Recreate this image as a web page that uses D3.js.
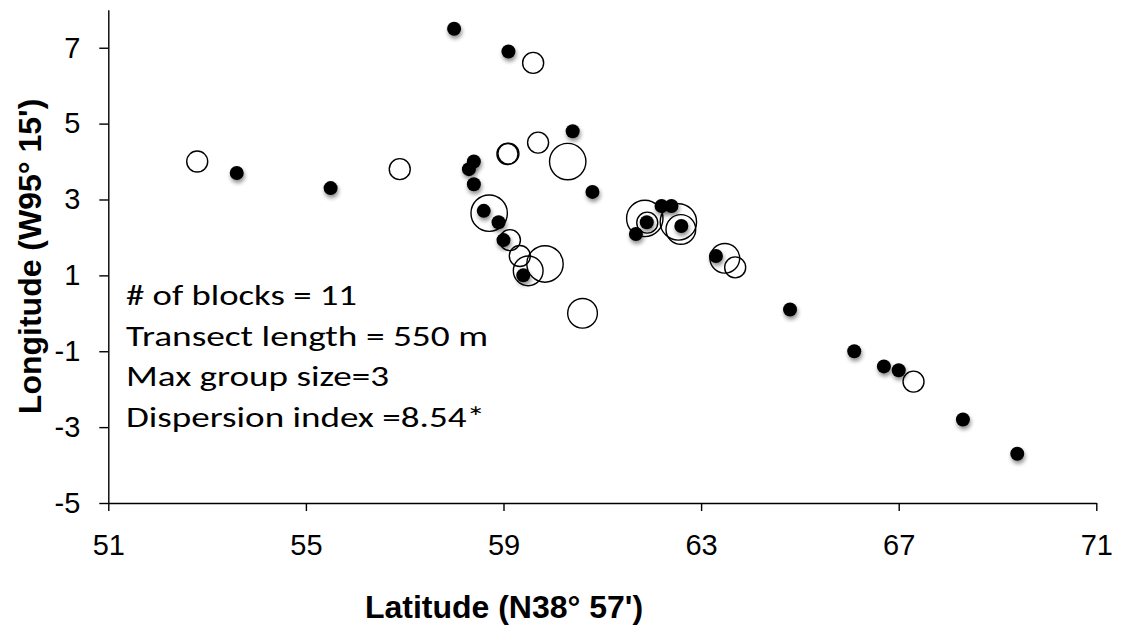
<!DOCTYPE html>
<html>
<head>
<meta charset="utf-8">
<script src="https://cdn.jsdelivr.net/npm/d3@7"></script>
<style>
  html, body { margin: 0; padding: 0; background: #fff; }
  svg { display: block; }
</style>
</head>
<body>
<svg id="chart" width="1124" height="628"></svg>
<script>
// Axis ticks
const xTicks = [51, 55, 59, 63, 67, 71];
const yTicks = [-5, -3, -1, 1, 3, 5, 7];

// Individual sightings (filled markers): [latitude, longitude]
const singles = [
  [58.0, 7.5], [59.1, 6.9], [53.6, 3.7], [55.5, 3.3],
  [58.4, 4.0], [58.3, 3.8], [58.4, 3.4], [60.4, 4.8], [60.8, 3.2],
  [58.6, 2.7], [58.9, 2.4], [59.0, 1.93], [59.4, 1.0],
  [61.9, 2.4], [61.68, 2.09], [62.2, 2.83], [62.4, 2.83], [62.6, 2.3],
  [63.3, 1.51], [64.8, 0.1], [66.1, -1.0], [66.7, -1.4], [67.0, -1.5],
  [68.3, -2.8], [69.4, -3.7]
];

// Groups (open markers): [latitude, longitude, group size]
const groups = [
  [52.8, 4.0, 1], [56.9, 3.8, 1], [59.08, 4.2, 1], [59.1, 4.21, 1],
  [59.7, 4.5, 1], [60.3, 4.0, 3], [59.6, 6.6, 1],
  [58.71, 2.64, 3], [59.13, 1.93, 1], [59.33, 1.51, 1],
  [59.84, 1.3, 3], [59.5, 1.12, 2], [60.6, 0.0, 2],
  [61.86, 2.5, 3], [61.91, 2.39, 1], [62.54, 2.41, 3], [62.59, 2.21, 2],
  [63.48, 1.45, 2], [63.69, 1.21, 1], [67.3, -1.8, 1]
];

// Summary statistics printed in the plot
const notes = [
  "# of blocks = 11",
  "Transect length = 550 m",
  "Max group size=3",
  "Dispersion index =8.54*"
];
const noteWidths = [231, 362, 263, 359];

const xTitle = "Latitude (N38° 57')";
const yTitle = "Longitude (W95° 15')";

const svg = d3.select("#chart");
const plotLeft = 108.3, plotRight = 1096.3, plotTop = 9.8, plotBottom = 503;

const x = d3.scaleLinear().domain([51, 71]).range([plotLeft, plotRight]);
const y = d3.scaleLinear().domain([-5, 8]).range([plotBottom, plotTop]);
const r = d3.scaleSqrt().domain([0, 3]).range([0, 18.2]);

// Plain hyphen-minus for negative tick labels
const fmt = d => String(d);

// Drop shadow used by the filled markers
const defs = svg.append("defs");
const f = defs.append("filter").attr("id", "shadow")
  .attr("x", "-60%").attr("y", "-60%").attr("width", "220%").attr("height", "220%");
f.append("feGaussianBlur").attr("in", "SourceAlpha").attr("stdDeviation", 2.2).attr("result", "b");
f.append("feOffset").attr("in", "b").attr("dx", 1).attr("dy", 3).attr("result", "o");
f.append("feComponentTransfer").attr("in", "o").attr("result", "s")
  .append("feFuncA").attr("type", "linear").attr("slope", 0.45);
const m = f.append("feMerge");
m.append("feMergeNode").attr("in", "s");
m.append("feMergeNode").attr("in", "SourceGraphic");

const tickFont = "'Liberation Sans', Arial, sans-serif";

// X axis
const gx = svg.append("g").attr("transform", `translate(0,${plotBottom})`)
  .call(d3.axisBottom(x).tickValues(xTicks).tickSize(8).tickSizeOuter(0).tickFormat(fmt));
gx.select(".domain").attr("stroke", "#000").attr("stroke-width", 1.4);
gx.selectAll(".tick line").attr("stroke", "#000").attr("stroke-width", 1.4);
gx.selectAll(".tick text")
  .attr("y", 0).attr("dy", null).attr("transform", "translate(0,52)")
  .attr("font-family", tickFont).attr("font-size", 29).attr("fill", "#000");

// Y axis
const gy = svg.append("g").attr("transform", `translate(${plotLeft},0)`)
  .call(d3.axisLeft(y).tickValues(yTicks).tickSize(9).tickPadding(19).tickSizeOuter(0).tickFormat(fmt));
gy.select(".domain").attr("stroke", "#000").attr("stroke-width", 1.4);
gy.selectAll(".tick line").attr("stroke", "#000").attr("stroke-width", 1.4);
gy.selectAll(".tick text")
  .attr("font-family", tickFont).attr("font-size", 29).attr("fill", "#000");

// Filled markers
svg.append("g").selectAll("circle").data(singles).join("circle")
  .attr("cx", d => x(d[0])).attr("cy", d => y(d[1])).attr("r", 7)
  .attr("fill", "#000").attr("filter", "url(#shadow)");

// Open markers sized by group size
svg.append("g").selectAll("circle").data(groups).join("circle")
  .attr("cx", d => x(d[0])).attr("cy", d => y(d[1])).attr("r", d => r(d[2]))
  .attr("fill", "none").attr("stroke", "#000").attr("stroke-width", 1.4);

// Summary text
svg.append("g").selectAll("text").data(notes).join("text")
  .attr("x", 126).attr("y", (d, i) => 305 + i * 40.7)
  .attr("font-family", "Carlito, Calibri, Lato, sans-serif").attr("font-size", 28)
  .attr("textLength", (d, i) => noteWidths[i]).attr("lengthAdjust", "spacingAndGlyphs")
  .attr("fill", "#000")
  .text(d => d);

// Axis titles
svg.append("text").attr("x", 504).attr("y", 618)
  .attr("text-anchor", "middle").attr("font-family", tickFont)
  .attr("font-weight", "bold").attr("font-size", 32).attr("fill", "#000")
  .text(xTitle);

svg.append("text").attr("transform", `translate(41,${(plotTop + plotBottom) / 2}) rotate(-90)`)
  .attr("text-anchor", "middle").attr("font-family", tickFont)
  .attr("font-weight", "bold").attr("font-size", 32).attr("fill", "#000")
  .text(yTitle);
</script>
</body>
</html>
